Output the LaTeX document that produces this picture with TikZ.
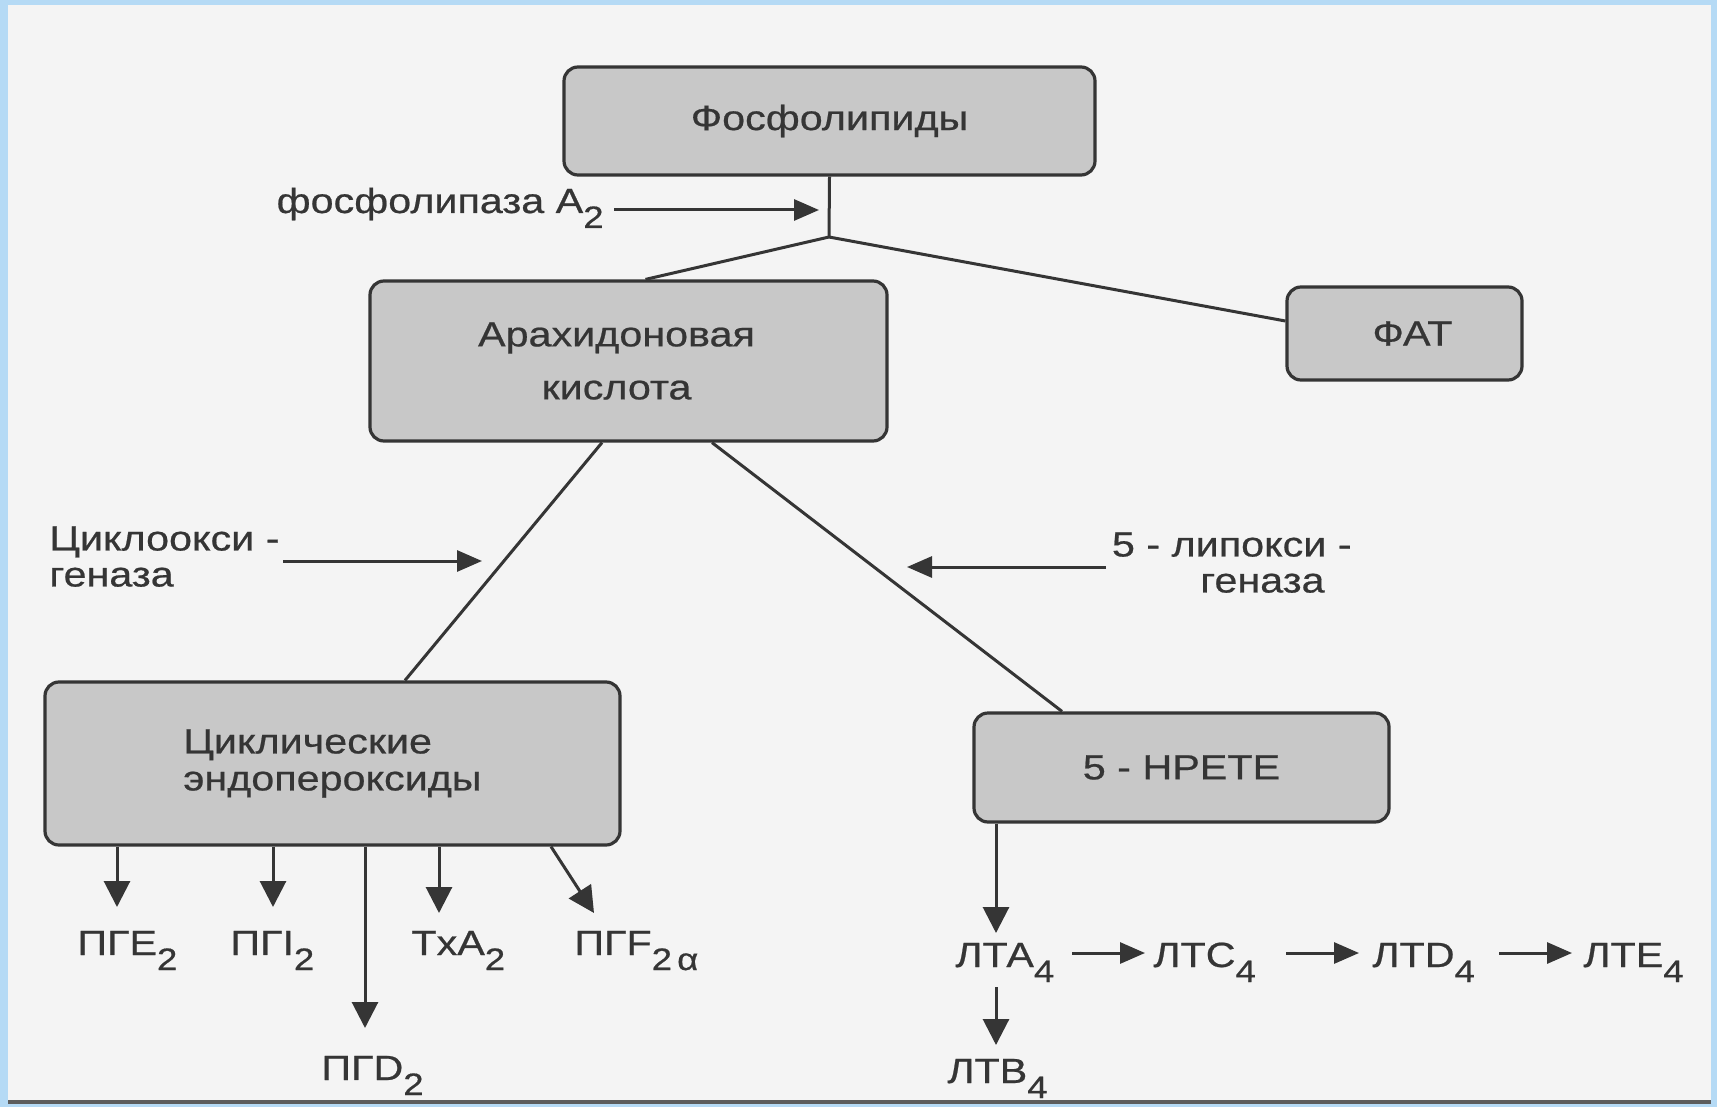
\documentclass[tikz,border=0pt]{standalone}
\usepackage{fontspec}
\setmainfont{Liberation Sans}[FakeStretch=1.18, FakeBold=0.6]
\usetikzlibrary{arrows.meta}
\definecolor{bg}{HTML}{F4F4F4}
\definecolor{frameblue}{HTML}{B5DAF5}
\definecolor{boxfill}{HTML}{C8C8C8}
\definecolor{ink}{HTML}{353535}
\newcommand\lowidx[1]{\raisebox{-7.5pt}{\fontsize{15.5}{15.5}\selectfont #1}}
\begin{document}
\begin{tikzpicture}[x=0.5pt,y=-0.5pt,
  box/.style={draw=ink, line width=1.6pt, fill=boxfill, rounded corners=7pt, inner sep=0pt,
              font=\fontsize{17.5}{21}\selectfont, text=ink},
  lbl/.style={font=\fontsize{17.5}{21}\selectfont, text=ink, inner sep=0pt},
  conn/.style={draw=ink, line width=1.5pt},
  arr/.style={draw=ink, line width=1.5pt, -{Triangle[length=13pt,width=13pt]}},
  harr/.style={draw=ink, line width=1.5pt, -{Triangle[length=12.5pt,width=10.5pt]}}]
% page and frame
\fill[frameblue] (0,0) rectangle (1717,1107);
\fill[bg] (8,5) rectangle (1711,1101);
\fill[ink!80] (8,1100) rectangle (1711,1104);
\useasboundingbox (0,0) rectangle (1717,1107);

% boxes
\node[box, minimum width=265.5pt, minimum height=54pt] (phos) at (829.5,121) {Фосфолипиды};
\node[box, minimum width=258.5pt, minimum height=80pt, align=center,
      font=\fontsize{17.5}{26.5}\selectfont] (ara) at (628.5,361) {Арахидоновая\hspace*{12pt}\\кислота\hspace*{12pt}};
\node[box, minimum width=117.5pt, minimum height=46.5pt] (fat) at (1404.5,333.5) {\hspace*{8pt}ФАТ};
\node[box, minimum width=287.5pt, minimum height=81.5pt, align=left,
      font=\fontsize{17.5}{18.5}\selectfont] (cyc) at (332.5,763.5) {Циклические\\эндопероксиды};
\node[box, minimum width=207.5pt, minimum height=54.5pt] (hpete) at (1181.5,767.5) {5 - HPETE};

% top junction
\coordinate (j) at (829,237);
\coordinate (plaend) at (829,210);
\draw[conn] (phos.south) -- (j);
\draw[conn] (j) -- ([xshift=8.5pt]ara.north);
\draw[conn] (j) -- ([yshift=6.25pt]fat.west);

% phospholipase label and arrow
\node[lbl, anchor=base east] (pla) at (604,213) {фосфолипаза A\lowidx{2}};
\draw[harr, shorten >=5pt] ([xshift=5pt]pla.east |- plaend) -- (plaend);

% branches from arachidonic acid
\draw[conn] ([xshift=-13.25pt]ara.south) -- ([xshift=36.25pt]cyc.north);
\draw[conn] ([xshift=41.75pt]ara.south) -- ([xshift=-59.75pt]hpete.north);

% enzymes
\node[lbl, align=left, anchor=north west, font=\fontsize{17.5}{18}\selectfont] (cox) at (49,526) {Циклоокси -\\геназа};
\coordinate (coxs) at (283,561);
\coordinate (coxe) at (482,561);
\draw[harr] (coxs) -- (coxe);

\node[lbl, align=right, anchor=north east, font=\fontsize{17.5}{18}\selectfont] (lox) at (1352,532) {5 - липокси -\\геназа\hspace*{13.5pt}};
\coordinate (loxs) at (1106,567);
\coordinate (loxe) at (907,567);
\draw[harr] (loxs) -- (loxe);

% products of cyclic endoperoxides
\node[lbl, anchor=base west] (pge) at (77,955) {ПГЕ\lowidx{2}};
\node[lbl, anchor=base west] (pgi) at (230,955) {ПГI\lowidx{2}};
\node[lbl, anchor=base west] (pgd) at (321,1080) {ПГD\lowidx{2}};
\node[lbl, anchor=base west] (txa) at (411,955) {TxA\lowidx{2}};
\node[lbl, anchor=base west] (pgf) at (574,955) {ПГF\lowidx{2\,α}};

\draw[arr] (cyc.south -| 117,0) -- (117,907);
\draw[arr] (cyc.south -| 273,0) -- (273,907);
\draw[arr] (cyc.south -| 365,0) -- (365,1028);
\draw[arr] (cyc.south -| 439,0) -- (439,913);
\draw[arr] (cyc.south -| 551,0) -- (594,913);

% leukotrienes
\node[lbl, anchor=base west] (lta) at (955,967) {ЛТА\lowidx{4}};
\node[lbl, anchor=base west] (ltc) at (1153,967) {ЛТС\lowidx{4}};
\node[lbl, anchor=base west] (ltd) at (1372,967) {ЛТD\lowidx{4}};
\node[lbl, anchor=base west] (lte) at (1583,967) {ЛТЕ\lowidx{4}};
\node[lbl, anchor=base west] (ltb) at (947,1083) {ЛТВ\lowidx{4}};

\draw[arr] (hpete.south -| 996,0) -- (996,933);
\draw[harr] (1072,953) -- (1145,953);
\draw[harr] (1286,953) -- (1359,953);
\draw[harr] (1499,953) -- (1572,953);
\draw[arr] (996,987) -- (996,1045);
\end{tikzpicture}
\end{document}
